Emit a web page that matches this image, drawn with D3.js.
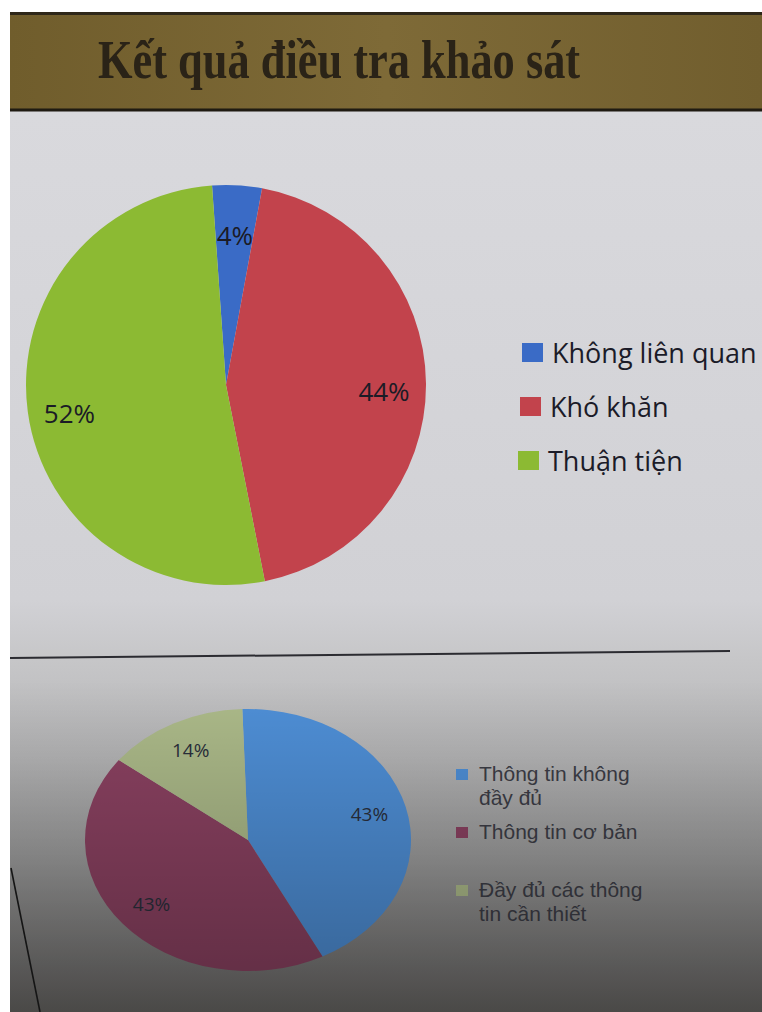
<!DOCTYPE html>
<html>
<head>
<meta charset="utf-8">
<script src="https://cdn.jsdelivr.net/npm/d3@7/dist/d3.min.js"></script>
<style>
  html, body { margin: 0; padding: 0; background: #ffffff; }
  svg { display: block; }
</style>
</head>
<body>
<svg id="chart" width="762" height="1012"></svg>
<script>
// ---------- DATA ----------
const titleText = "Kết quả điều tra khảo sát";

const topCategories = ["Không liên quan", "Khó khăn", "Thuận tiện"];
const topValues = [4, 44, 52];
const topColors = ["#3a6bc6", "#c2434c", "#8cba33"];

const bottomCategories = ["Thông tin không đầy đủ", "Thông tin cơ bản", "Đầy đủ các thông tin cần thiết"];
const bottomLegendLines = [["Thông tin không", "đầy đủ"], ["Thông tin cơ bản"], ["Đầy đủ các thông", "tin cần thiết"]];
const bottomValues = [43, 43, 14];
const bottomColors = ["#4f90d8", "#8c4262", "#adbb8a"];

// ---------- SETUP ----------
const W = 762, H = 1012;
const svg = d3.select("#chart");
const defs = svg.append("defs");

// background gradient (photo of a screen, darker towards the bottom)
const bg = defs.append("linearGradient").attr("id", "bgGrad")
  .attr("gradientUnits", "userSpaceOnUse")
  .attr("x1", 0).attr("y1", 112).attr("x2", 0).attr("y2", H);
[[112, "#d9d9dd"], [600, "#d1d1d5"], [660, "#c6c6c8"], [760, "#b5b5b6"], [860, "#9c9c9c"], [960, "#7d7c7b"], [1012, "#6d6b68"]]
  .forEach(([y, c]) => bg.append("stop").attr("offset", (y - 112) / (H - 112)).attr("stop-color", c));

// shading for the lower part
const shade = defs.append("linearGradient").attr("id", "shadeGrad")
  .attr("gradientUnits", "userSpaceOnUse")
  .attr("x1", 0).attr("y1", 680).attr("x2", 0).attr("y2", H);
[[0, 0], [0.5, 0.16], [1, 0.32]].forEach(([o, a]) => {
  shade.append("stop").attr("offset", o).attr("stop-color", "#000").attr("stop-opacity", a);
});

const band = defs.append("linearGradient").attr("id", "bandGrad")
  .attr("x1", 0).attr("y1", 0).attr("x2", 1).attr("y2", 0);
band.append("stop").attr("offset", "0%").attr("stop-color", "#705d2c");
band.append("stop").attr("offset", "50%").attr("stop-color", "#7e6a37");
band.append("stop").attr("offset", "100%").attr("stop-color", "#715e2e");

svg.append("rect").attr("x", 10).attr("y", 12).attr("width", W - 10).attr("height", H - 12)
  .attr("fill", "url(#bgGrad)");

// ---------- TITLE BAND ----------
svg.append("rect").attr("x", 10).attr("y", 12).attr("width", W - 10).attr("height", 99)
  .attr("fill", "url(#bandGrad)");
svg.append("line").attr("x1", 10).attr("x2", W).attr("y1", 13.5).attr("y2", 13.5)
  .attr("stroke", "#2e2719").attr("stroke-width", 3);
svg.append("line").attr("x1", 10).attr("x2", W).attr("y1", 110).attr("y2", 110)
  .attr("stroke", "#1f1b12").attr("stroke-width", 3);
svg.append("g").attr("transform", "translate(98,78) scale(0.965,1.18)")
  .append("text")
  .attr("font-family", "'Liberation Serif', 'DejaVu Serif', serif")
  .attr("font-weight", "bold").attr("font-size", 46)
  .attr("fill", "#2a2317")
  .text(titleText);

// ---------- TOP PIE ----------
const topCx = 226, topCy = 385, topR = 200;
const topOffset = -4 * Math.PI / 180;
const topPie = d3.pie().sort(null).value(d => d)
  .startAngle(topOffset).endAngle(topOffset + 2 * Math.PI);
const topArcs = topPie(topValues);
const topArc = d3.arc().innerRadius(0).outerRadius(topR);
const topLabelArc = d3.arc().innerRadius(topR * 0.79).outerRadius(topR * 0.79);

const gTop = svg.append("g").attr("transform", `translate(${topCx},${topCy})`);
gTop.selectAll("path").data(topArcs).join("path")
  .attr("d", topArc)
  .attr("fill", (d, i) => topColors[i]);
gTop.selectAll("text").data(topArcs).join("text")
  .attr("transform", d => { const c = topLabelArc.centroid(d); return `translate(${c[0]},${c[1] + 8})`; })
  .attr("text-anchor", "middle").attr("dy", "0.36em")
  .attr("font-family", "'Open Sans', sans-serif").attr("font-size", 26)
  .attr("fill", "#1b1b26")
  .text(d => d.data + "%");

// top legend
const topLegend = svg.append("g").attr("transform", "translate(522,343)");
const tItems = topLegend.selectAll("g").data(topCategories).join("g")
  .attr("transform", (d, i) => `translate(${-2 * i},${i * 54})`);
tItems.append("rect").attr("width", 21).attr("height", 19)
  .attr("fill", (d, i) => topColors[i]);
tItems.append("text").attr("x", 30).attr("y", 20)
  .attr("font-family", "'Open Sans', sans-serif").attr("font-size", 27)
  .attr("fill", "#1b1b28")
  .text(d => d);

// ---------- DIVIDER ----------
svg.append("line").attr("x1", 10).attr("y1", 658).attr("x2", 730).attr("y2", 651)
  .attr("stroke", "#2b2b31").attr("stroke-width", 2);

// ---------- BOTTOM PIE ----------
const botCx = 248, botCy = 840, botR = 163, botSy = 131 / 163;
const botOffset = -2 * Math.PI / 180;
const botPie = d3.pie().sort(null).value(d => d)
  .startAngle(botOffset).endAngle(botOffset + 2 * Math.PI);
const botArcs = botPie(bottomValues);
const botArc = d3.arc().innerRadius(0).outerRadius(botR);
const botLabelArc = d3.arc().innerRadius(botR * 0.77).outerRadius(botR * 0.77);

const gBot = svg.append("g").attr("transform", `translate(${botCx},${botCy})`);
gBot.append("g").attr("transform", `scale(1,${botSy})`)
  .selectAll("path").data(botArcs).join("path")
  .attr("d", botArc)
  .attr("fill", (d, i) => bottomColors[i]);
gBot.selectAll("text").data(botArcs).join("text")
  .attr("transform", d => { const c = botLabelArc.centroid(d); return `translate(${c[0]},${c[1] * botSy})`; })
  .attr("text-anchor", "middle").attr("dy", "0.36em")
  .attr("font-family", "'Open Sans', sans-serif").attr("font-size", 19)
  .attr("fill", "#2a2f3c")
  .text(d => d.data + "%");

// bottom legend
const botLegend = svg.append("g").attr("transform", "translate(456,769)");
const bItems = botLegend.selectAll("g").data(bottomCategories).join("g")
  .attr("transform", (d, i) => `translate(0,${i * 58})`);
bItems.append("rect").attr("width", 12).attr("height", 11)
  .attr("fill", (d, i) => bottomColors[i]);
bItems.append("text")
  .attr("font-family", "'Liberation Sans', Arial, sans-serif").attr("font-size", 21)
  .attr("fill", "#3c3d46")
  .each(function (d, i) {
    d3.select(this).selectAll("tspan").data(bottomLegendLines[i]).join("tspan")
      .attr("x", 23).attr("y", (l, j) => 12 + j * 24)
      .text(l => l);
  });

// ---------- PHOTO SHADING & FRAME ----------
svg.append("rect").attr("x", 10).attr("y", 680).attr("width", W - 10).attr("height", H - 680)
  .attr("fill", "url(#shadeGrad)").attr("pointer-events", "none");
svg.append("line").attr("x1", 11).attr("y1", 868).attr("x2", 40).attr("y2", H)
  .attr("stroke", "#151515").attr("stroke-width", 1.6);
</script>
</body>
</html>
